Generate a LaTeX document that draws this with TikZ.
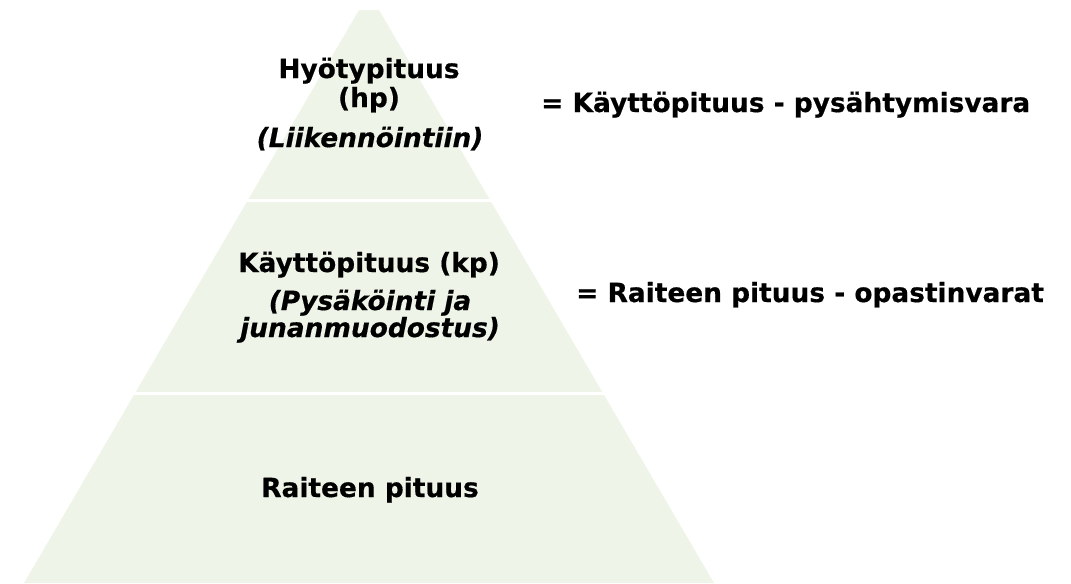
\documentclass[tikz,border=0pt]{standalone}
\usepackage{fontspec}
\setmainfont{DejaVu Sans}[BoldFeatures={FakeBold=0.5},
                          BoldItalicFeatures={FakeBold=0.5}]
\usetikzlibrary{positioning}
\definecolor{layergreen}{RGB}{238,245,232}

\begin{document}
\begin{tikzpicture}[x=0.75pt, y=-0.75pt,
  tierText/.style={font=\fontsize{19.8}{23}\selectfont\bfseries,
                   anchor=base, inner sep=0pt},
  tierNote/.style={tierText, font=\fontsize{19.8}{23}\selectfont\bfseries\itshape},
  eqText/.style={tierText, anchor=base west}]
  \useasboundingbox (0,0) rectangle (1071,583);

  % Pyramid with two white gaps
  \fill[layergreen] (24,583) -- (359,10) -- (379,10) -- (714,583) -- cycle;
  \draw[white, line width=2.25pt] (0,200.5) -- (720,200.5);
  \draw[white, line width=2.25pt] (0,393.5) -- (720,393.5);

  % Top tier
  \node[tierText] (hp) at (369,78) {Hyötypituus};
  \node[tierText] (hpAbbr) at (369,107) {(hp)};
  \node[tierNote] (hpUse) at (370,147) {(Liikennöintiin)};

  % Middle tier
  \node[tierText] (kp) at (369,272) {Käyttöpituus (kp)};
  \node[tierNote] (kpUse1) at (370,310) {(Pysäköinti ja};
  \node[tierNote] (kpUse2) at (370,337) {junanmuodostus)};

  % Bottom tier
  \node[tierText] (track) at (370,497) {Raiteen pituus};

  % Definitions
  \node[eqText] (hpDef) at (541,112) {= Käyttöpituus - pysähtymisvara};
  \node[eqText] (kpDef) at (576,302) {= Raiteen pituus - opastinvarat};
\end{tikzpicture}
\end{document}
